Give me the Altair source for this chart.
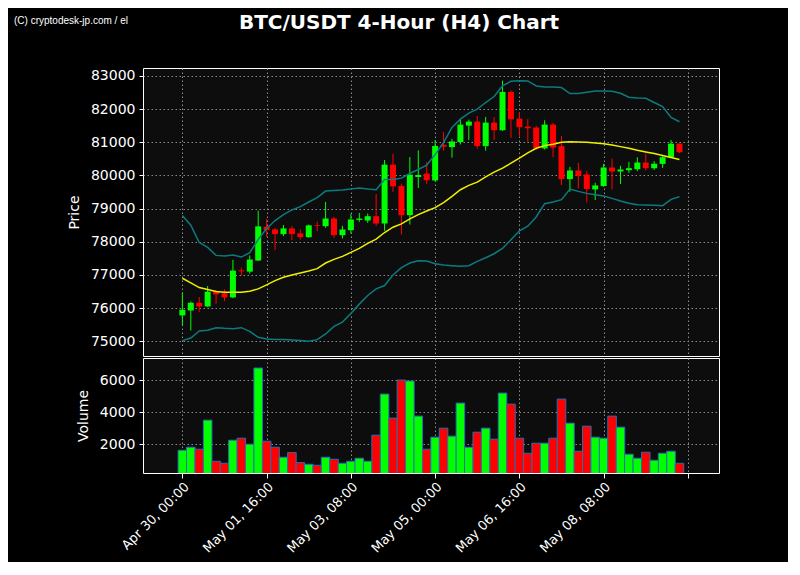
import altair as alt
import pandas as pd

# ---------------- data ----------------
tick_idx = [0, 10, 20, 30, 40, 50, 60]
tick_labels = ["Apr 30, 00:00", "May 01, 16:00", "May 03, 08:00", "May 05, 00:00",
               "May 06, 16:00", "May 08, 08:00", ""]

opens = [75780, 75930, 76160, 76050, 76495, 76445, 76323, 77140, 77100, 77435,
         78455, 78374, 78232, 78404, 78253, 78141, 78500, 78471, 78702, 78200,
         78351, 78660, 78642, 78772, 78551, 80326, 79684, 78802, 79955, 80055,
         79850, 80926, 80856, 81006, 81504, 81624, 80886, 81594, 81365, 82521,
         81714, 81475, 81445, 80816, 81534, 80884, 79890, 80151, 80030, 79580,
         79680, 80241, 80120, 80160, 80190, 80390, 80220, 80350, 80550, 80960]
closes = [75950, 76162, 76050, 76495, 76414, 76323, 77131, 77111, 77465, 78465,
          78354, 78232, 78404, 78232, 78141, 78495, 78480, 78702, 78200, 78371,
          78672, 78700, 78772, 78551, 80326, 79674, 78802, 80025, 80015, 79855,
          80890, 80866, 81026, 81534, 81624, 80886, 81594, 81365, 82521, 81694,
          81455, 81425, 80816, 81534, 80843, 79890, 80151, 79990, 79590, 79700,
          80241, 80120, 80181, 80220, 80390, 80220, 80350, 80550, 80960, 80700]
highs = [76465, 76200, 76334, 76667, 76536, 76566, 77455, 77222, 77586, 78940,
         78687, 78425, 78505, 78475, 78374, 78520, 78604, 79203, 78752, 78481,
         78850, 78872, 78852, 79444, 80466, 80657, 79755, 80556, 80757, 80406,
         81066, 81315, 81106, 81704, 81684, 81794, 81764, 81764, 82860, 82561,
         81913, 81704, 81495, 81664, 81584, 81195, 80261, 80382, 80141, 79780,
         80351, 80510, 80291, 80410, 80550, 80660, 80430, 80610, 81070, 80960]
lows = [75475, 75324, 75879, 76030, 76132, 76212, 76300, 76980, 77040, 77420,
        78150, 77748, 78172, 78050, 78070, 78120, 78320, 78420, 78120, 78100,
        78250, 78600, 78571, 78480, 78330, 79504, 78220, 78521, 79624, 79734,
        79820, 80747, 80537, 80936, 81066, 80807, 80747, 81066, 81345, 81136,
        81185, 81016, 80767, 80780, 80552, 79710, 79510, 79610, 79186, 79260,
        79660, 79580, 79740, 80080, 80130, 80150, 80170, 80230, 80530, 80670]
volumes = [1625, 1812, 1688, 3500, 938, 813, 2250, 2375, 2000, 6750,
           2188, 1812, 1188, 1479, 854, 750, 688, 1188, 1063, 813,
           938, 1125, 938, 2563, 5125, 3625, 6000, 5938, 3750, 1688,
           2438, 3000, 2500, 4563, 1812, 2750, 3000, 2313, 5188, 4500,
           2375, 1438, 2063, 2063, 2375, 4813, 3313, 1563, 3125, 2438,
           2375, 3750, 3063, 1375, 1125, 1500, 1000, 1438, 1563, 813]
ma20 = [76900, 76760, 76620, 76560, 76500, 76480, 76480, 76480, 76510, 76580,
        76700, 76830, 76930, 77000, 77060, 77120, 77190, 77360, 77470, 77560,
        77680, 77800, 77950, 78080, 78280, 78440, 78540, 78690, 78820, 78930,
        79030, 79180, 79370, 79570, 79700, 79800, 79960, 80100, 80220, 80370,
        80520, 80680, 80820, 80900, 80940, 81000, 81020, 81010, 81000, 80980,
        80960, 80920, 80870, 80820, 80760, 80710, 80660, 80600, 80540, 80480]
upper = [78790, 78500, 77980, 77830, 77590, 77570, 77600, 77540, 77670, 78070,
         78400, 78640, 78820, 78960, 79060, 79200, 79330, 79530, 79550, 79560,
         79590, 79620, 79590, 79570, 79880, 79880, 79920, 80060, 80180, 80310,
         80630, 80990, 81450, 81700, 81880, 82000, 82200, 82380, 82700, 82840,
         82860, 82850, 82700, 82670, 82670, 82650, 82470, 82470, 82510, 82550,
         82550, 82540, 82480, 82360, 82340, 82330, 82200, 82080, 81750, 81620]
lower = [75020, 75100, 75310, 75330, 75410, 75390, 75380, 75410, 75300, 75120,
         75070, 75050, 75050, 75040, 75020, 75000, 75050, 75220, 75450, 75580,
         75840, 76120, 76380, 76580, 76680, 77000, 77220, 77360, 77430, 77420,
         77340, 77300, 77280, 77260, 77280, 77410, 77520, 77640, 77800, 78060,
         78330, 78470, 78750, 79150, 79200, 79270, 79590, 79520, 79460, 79420,
         79380, 79310, 79230, 79160, 79120, 79110, 79100, 79090, 79280, 79360]

TITLE = "BTC/USDT 4-Hour (H4) Chart"
CREDIT = "(C) cryptodesk-jp.com / el"

# ---------------- table ----------------
df = pd.DataFrame({
    "i": list(range(len(opens))),
    "open": opens, "close": closes, "high": highs, "low": lows,
    "volume": volumes, "ma": ma20, "upper": upper, "lower": lower,
})
df["dir"] = ["up" if c >= o else "down" for o, c in zip(opens, closes)]

GREEN, RED = "#00ff00", "#ff0000"
TEAL, YELLOW = "#0b7b80", "#f0f000"
X_DOMAIN = [-4.08, 63.1]
W, H_PRICE, H_VOL = 576, 288, 115

color = alt.Color("dir:N", scale=alt.Scale(domain=["up", "down"], range=[GREEN, RED]), legend=None)

x_hidden = alt.X("i:Q", scale=alt.Scale(domain=X_DOMAIN, nice=False, zero=False),
                 axis=alt.Axis(values=tick_idx, labels=False, ticks=False, domain=False,
                               title=None, grid=True))

label_expr = ""
for v, lab in zip(tick_idx, tick_labels):
    label_expr += f"datum.value == {v} ? '{lab}' : "
label_expr += "''"

x_vol = alt.X("i:Q", scale=alt.Scale(domain=X_DOMAIN, nice=False, zero=False),
              axis=alt.Axis(values=tick_idx, labelExpr=label_expr, labelAngle=315,
                            labelAlign="right", labelBaseline="top", labelFontSize=13,
                            labelPadding=2, tickSize=5, title=None, grid=True, domain=False))

price_scale = alt.Scale(domain=[74556, 83241], nice=False, zero=False)
price_axis = alt.Axis(values=list(range(75000, 83001, 1000)), format="d", title="Price",
                      grid=True, tickSize=4, labelPadding=4, titlePadding=9)


def py(field):
    return alt.Y(f"{field}:Q", scale=price_scale, axis=price_axis)


base = alt.Chart(df)
wicks = base.mark_rule(strokeWidth=1).encode(x=x_hidden, y=py("low"), y2="high:Q", color=color)
bodies = base.mark_bar(size=6).encode(x=x_hidden, y=py("open"), y2="close:Q", color=color)
up_line = base.mark_line(color=TEAL, strokeWidth=1.5).encode(x=x_hidden, y=py("upper"))
lo_line = base.mark_line(color=TEAL, strokeWidth=1.5).encode(x=x_hidden, y=py("lower"))
ma_line = base.mark_line(color=YELLOW, strokeWidth=1.5).encode(x=x_hidden, y=py("ma"))

title_txt = alt.Chart(pd.DataFrame({"t": [TITLE]})).mark_text(
    font="DejaVu Sans", fontSize=20, fontWeight="bold", color="white",
    align="center", baseline="top").encode(
    x=alt.value(256), y=alt.value(-55), text="t:N")
credit_txt = alt.Chart(pd.DataFrame({"t": [CREDIT]})).mark_text(
    font="Liberation Sans", fontSize=10, color="white",
    align="left", baseline="middle").encode(
    x=alt.value(-129), y=alt.value(-47.5), text="t:N")

price = alt.layer(wicks, bodies, up_line, lo_line, ma_line, title_txt, credit_txt).properties(
    width=W, height=H_PRICE)

vol = base.mark_bar(size=8.58, stroke="#2a6db0", strokeWidth=1, clip=True).encode(
    x=x_vol,
    y=alt.Y("volume:Q", scale=alt.Scale(domain=[206, 7375], nice=False, zero=False),
            axis=alt.Axis(values=[2000, 4000, 6000], format="d", title="Volume",
                          grid=True, tickSize=4, labelPadding=4, titlePadding=9)),
    color=color,
).properties(width=W, height=H_VOL)

chart = alt.vconcat(price, vol, spacing=0).properties(
    background="#000000",
    padding={"left": 5, "top": 4, "right": 68, "bottom": 6},
).configure_view(
    fill="#0d0d0d", stroke="white", strokeWidth=1,
).configure_axis(
    labelColor="white", titleColor="white", tickColor="white", domainColor="white",
    gridColor="#8c8c8c", gridDash=[1.5, 2.5], gridWidth=1, gridOpacity=1,
    labelFont="DejaVu Sans", titleFont="DejaVu Sans", labelFontSize=14,
    titleFontSize=14, titleFontWeight="normal", domain=False,
)

chart.save("out.html", embed_options={"renderer": "svg", "actions": False})
